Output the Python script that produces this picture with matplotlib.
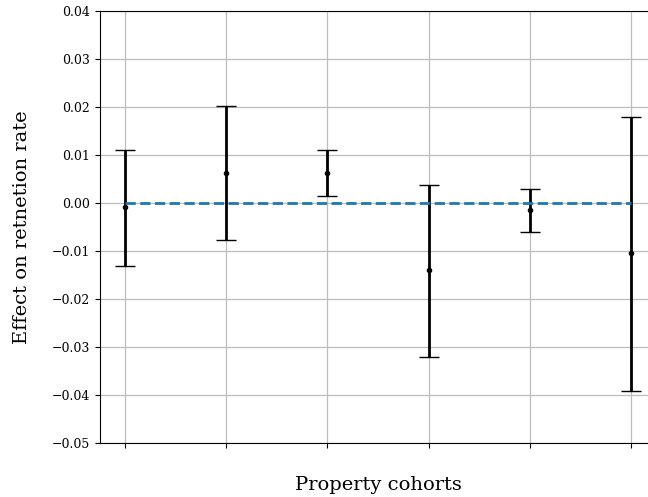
import matplotlib
matplotlib.use("Agg")
import matplotlib.pyplot as plt
import numpy as np

plt.rcParams['font.family'] = ['DejaVu Serif']

cohorts = [0, 1, 2, 3, 4, 5]
effects = [-0.0008, 0.0062, 0.0062, -0.0140, -0.0015, -0.0105]
upper = [0.0110, 0.0203, 0.0110, 0.0037, 0.0029, 0.0180]
lower = [-0.0132, -0.0077, 0.0015, -0.0321, -0.0061, -0.0391]

eff = np.array(effects)
yerr = np.array([eff - np.array(lower), np.array(upper) - eff])

fig = plt.figure(figsize=(6.48, 4.97), dpi=100)
ax = fig.add_axes([100/648, 1 - 443/497, (656 - 100)/648, (443 - 11)/497])

ax.grid(True, color='#bdbdbd', linewidth=0.9)
ax.set_axisbelow(True)
ax.errorbar(cohorts, effects, yerr=yerr, fmt='o', color='black', ecolor='black',
            markersize=3, elinewidth=2, capsize=7, capthick=1, zorder=3)
ax.hlines(0, cohorts[0], cohorts[-1], colors='#1f77b4', linestyles='--', linewidth=2, zorder=4)

ax.set_xlim(-0.25, 5.25)
ax.set_ylim(-0.05, 0.04)
ticks = np.arange(-0.05, 0.0401, 0.01)
ax.set_yticks(ticks)
ax.set_yticklabels([f"{v:.2f}".replace('-', '\u2212') for v in ticks])
ax.set_xticks(cohorts)
ax.set_xticklabels([])
ax.tick_params(axis='y', labelsize=9)
ax.set_xlabel('Property cohorts', fontsize=14, labelpad=17)
ax.set_ylabel('Effect on retnetion rate', fontsize=14, labelpad=15)

fig.savefig('out.png', dpi=100)
